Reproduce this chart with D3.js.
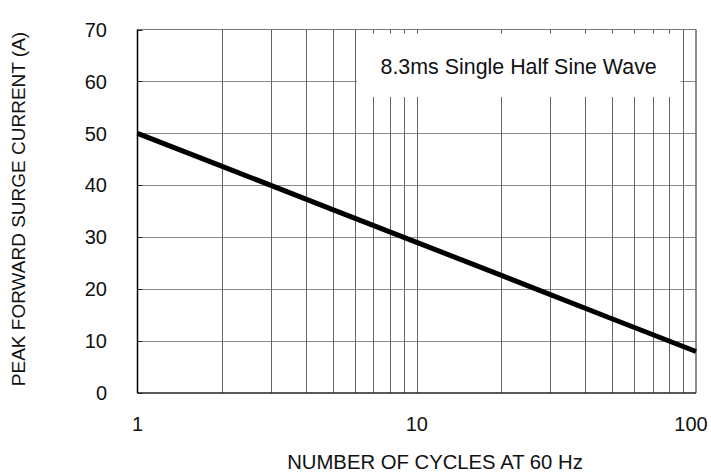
<!DOCTYPE html>
<html>
<head>
<meta charset="UTF-8">
<title>Peak Forward Surge Current</title>
<script src="https://cdn.jsdelivr.net/npm/d3@7"></script>
<style>
    body { margin: 0; background: #fff; }
    svg { display: block; font-family: Arial, "Liberation Sans", sans-serif; }
</style>
</head>
<body>
<div id="chart"></div>
<script>
    // values
    var cycles = [1, 2, 5, 10, 20, 50, 100];
    var current = [50, 43.7, 35.3, 29, 22.7, 14.3, 8];
    var xTicks = [1, 10, 100];
    var yTicks = [0, 10, 20, 30, 40, 50, 60, 70];
    var xGrid = [2, 3, 4, 5, 6, 7, 8, 9, 20, 30, 40, 50, 60, 70, 80, 90];
    var note = "8.3ms Single Half Sine Wave";

    var width = 711, height = 475;
    var m = {left: 137.5, top: 29.5, right: 15, bottom: 82};

    var svg = d3.select("#chart").append("svg")
        .attr("width", width).attr("height", height);

    var x = d3.scaleLog().domain([1, 100]).range([m.left, width - m.right]);
    var y = d3.scaleLinear().domain([0, 70]).range([height - m.bottom, m.top]);

    // grid
    svg.append("g").selectAll("line").data(yTicks.slice(1, -1)).enter().append("line")
        .attr("x1", x(1)).attr("x2", x(100))
        .attr("y1", function(d) { return Math.round(y(d)) + 0.5; })
        .attr("y2", function(d) { return Math.round(y(d)) + 0.5; })
        .attr("stroke", "#888").attr("stroke-width", 1);
    svg.append("g").selectAll("line").data(xGrid.concat([10])).enter().append("line")
        .attr("x1", function(d) { return Math.round(x(d)) + 0.5; })
        .attr("x2", function(d) { return Math.round(x(d)) + 0.5; })
        .attr("y1", y(0)).attr("y2", y(70))
        .attr("stroke", "#666").attr("stroke-width", 1);

    // white label box hides the grid behind it
    svg.append("rect")
        .attr("x", x(6.1)).attr("y", y(70) + 1)
        .attr("width", x(88) - x(6.1)).attr("height", y(57) - y(70) - 1)
        .attr("fill", "#fff");

    // inward ticks
    svg.append("g").selectAll("line").data(yTicks).enter().append("line")
        .attr("x1", x(1)).attr("x2", x(1) + 5)
        .attr("y1", function(d) { return Math.round(y(d)) + 0.5; })
        .attr("y2", function(d) { return Math.round(y(d)) + 0.5; })
        .attr("stroke", "#222");
    svg.append("g").selectAll("line").data(xGrid.concat([10])).enter().append("line")
        .attr("x1", function(d) { return Math.round(x(d)) + 0.5; })
        .attr("x2", function(d) { return Math.round(x(d)) + 0.5; })
        .attr("y1", y(70)).attr("y2", y(70) + 4)
        .attr("stroke", "#555");

    // frame
    svg.append("line").attr("x1", x(1)).attr("x2", x(100)).attr("y1", y(70)).attr("y2", y(70))
        .attr("stroke", "#777").attr("stroke-width", 1.2);
    svg.append("line").attr("x1", x(100)).attr("x2", x(100)).attr("y1", y(70)).attr("y2", y(0))
        .attr("stroke", "#666").attr("stroke-width", 1.5);
    svg.append("line").attr("x1", x(1)).attr("x2", x(100)).attr("y1", y(0)).attr("y2", y(0))
        .attr("stroke", "#222").attr("stroke-width", 1.5);
    svg.append("line").attr("x1", x(1)).attr("x2", x(1)).attr("y1", y(70)).attr("y2", y(0))
        .attr("stroke", "#000").attr("stroke-width", 1.5);

    // curve
    var pts = cycles.map(function(c, i) { return [c, current[i]]; });
    svg.append("path").datum(pts)
        .attr("d", d3.line().x(function(d) { return x(d[0]); }).y(function(d) { return y(d[1]); }))
        .attr("fill", "none").attr("stroke", "#000").attr("stroke-width", 5);

    // tick labels
    svg.append("g").selectAll("text").data(yTicks).enter().append("text")
        .attr("x", 107).attr("y", function(d) { return y(d); })
        .attr("dy", "0.36em").attr("text-anchor", "end")
        .attr("font-size", 20).attr("fill", "#111")
        .text(function(d) { return d; });
    svg.append("g").selectAll("text").data(xTicks).enter().append("text")
        .attr("x", function(d, i) { return x(d) - (i === xTicks.length - 1 ? 5 : 0); }).attr("y", 431)
        .attr("text-anchor", "middle")
        .attr("font-size", 20).attr("fill", "#111")
        .text(function(d) { return d; });

    // annotation
    svg.append("text")
        .attr("x", (x(6.1) + x(88)) / 2).attr("y", 73.5)
        .attr("text-anchor", "middle").attr("font-size", 21.4).attr("fill", "#111")
        .text(note);

    // axis titles
    svg.append("text")
        .attr("x", 435).attr("y", 469)
        .attr("text-anchor", "middle").attr("font-size", 20.3).attr("fill", "#111")
        .text("NUMBER OF CYCLES AT 60 Hz");
    svg.append("text")
        .attr("transform", "translate(25,209) rotate(-90)")
        .attr("text-anchor", "middle").attr("font-size", 19).attr("fill", "#111")
        .text("PEAK FORWARD SURGE CURRENT (A)");
</script>
</body>
</html>
